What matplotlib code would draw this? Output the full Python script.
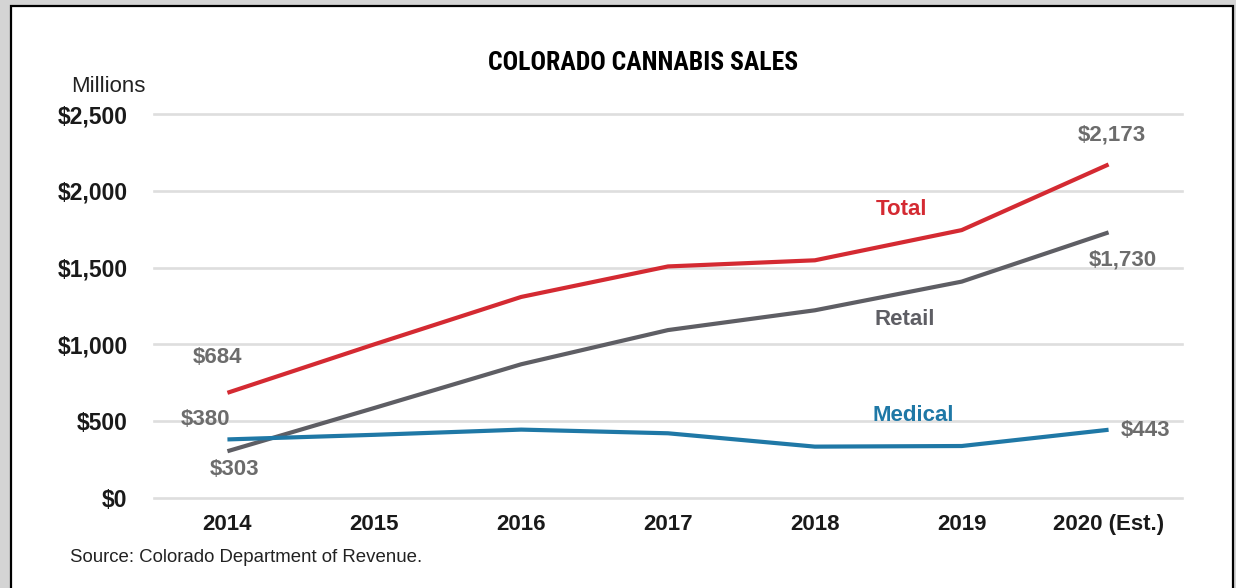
import matplotlib
matplotlib.use("Agg")
import matplotlib.pyplot as plt
from matplotlib import font_manager
from matplotlib.patches import Rectangle

years = ["2014", "2015", "2016", "2017", "2018", "2019", "2020 (Est.)"]
total = [684, 1000, 1309, 1508, 1548, 1745, 2173]
retail = [303, 585, 870, 1093, 1222, 1409, 1730]
medical = [380, 410, 444, 420, 333, 337, 443]
yticks = [0, 500, 1000, 1500, 2000, 2500]
ytick_labels = ["$0", "$500", "$1,000", "$1,500", "$2,000", "$2,500"]


def _w(f):
    w = f.weight
    if isinstance(w, str):
        return 700 if "bold" in w.lower() else 400
    return w


bold_names = {f.name for f in font_manager.fontManager.ttflist if _w(f) >= 650 and f.style == "normal"}
cands = ["Archivo Narrow", "Liberation Sans Narrow", "Roboto Condensed", "Arimo Narrow",
         "PT Sans Narrow", "Fira Sans Condensed", "IBM Plex Sans Condensed", "Asap Condensed",
         "Barlow Semi Condensed"]
NARROW = next((n for n in cands if n in bold_names), None)
BASE = ["Liberation Sans", "DejaVu Sans"]
plt.rcParams["font.family"] = BASE

W, H = 1236, 588
fig = plt.figure(figsize=(W / 100, H / 100), dpi=100)
fig.patch.set_facecolor("#d4d4d4")
fig.patches.append(Rectangle((10.5 / W, -0.05), (1232.5 - 10.5) / W, 1.05 - 5.5 / H,
                             transform=fig.transFigure, facecolor="white",
                             edgecolor="black", linewidth=1.6, zorder=-5))

ax = fig.add_axes([154 / W, (H - 497.7) / H, (1182 - 154) / W, (497.7 - 114.3) / H])
ax.set_facecolor("none")
x = list(range(len(years)))

RED = "#d42a32"
GRAY = "#5e5e64"
BLUE = "#1f78a6"
LABEL_GRAY = "#6c6c6c"

for v in yticks:
    ax.axhline(v, color="#dedede", lw=1.9, zorder=1, clip_on=False)

ax.plot(x, total, color=RED, lw=3, zorder=3, clip_on=False, solid_capstyle="butt")
ax.plot(x, retail, color=GRAY, lw=3, zorder=3, clip_on=False, solid_capstyle="butt")
ax.plot(x, medical, color=BLUE, lw=3, zorder=3, clip_on=False, solid_capstyle="butt")

ax.set_xlim(-0.5, 6.5)
ax.set_ylim(0, 2500)
ax.set_yticks(yticks)
ax.set_yticklabels(ytick_labels, fontsize=16.5, fontweight="bold", color="#1a1a1a")
ax.set_xticks(x)
ax.set_xticklabels(years, fontsize=16, fontweight="bold", color="#1a1a1a")
ax.tick_params(axis="both", length=0)
ax.tick_params(axis="y", pad=19)
ax.tick_params(axis="x", pad=12)
for s in ax.spines.values():
    s.set_visible(False)

lab = dict(fontsize=16, fontweight="bold", color=LABEL_GRAY, va="center")
ax.text(-0.07, 911, f"${total[0]:,}", ha="center", **lab)
ax.text(-0.15, 507, f"${medical[0]:,}", ha="center", **lab)
ax.text(0.05, 181, f"${retail[0]:,}", ha="center", **lab)
ax.text(6.02, 2365, f"${total[-1]:,}", ha="center", **lab)
ax.text(6.10, 1550, f"${retail[-1]:,}", ha="center", **lab)
ax.text(6.08, 435, f"${medical[-1]:,}", ha="left", **lab)

ser = dict(fontsize=16, fontweight="bold", va="center", ha="center")
ax.text(4.59, 1876, "Total", color=RED, **ser)
ax.text(4.61, 1159, "Retail", color=GRAY, **ser)
ax.text(4.67, 533, "Medical", color=BLUE, **ser)

if NARROW:
    t = fig.text(643 / W, 1 - 63 / H, "COLORADO CANNABIS SALES", ha="center", va="center",
                 fontsize=18, fontweight="bold", color="black", family=[NARROW] + BASE)
    # fit the title width to the reference (about 310 px)
    fig.canvas.draw()
    wpx = t.get_window_extent().width
    if wpx > 0:
        t.set_fontsize(18 * 310 / wpx)
else:
    fig.text(643 / W, 1 - 63 / H, "COLORADO CANNABIS SALES", ha="center", va="center",
             fontsize=15, fontweight="bold", color="black")
fig.text(108 / W, 1 - 87 / H, "Millions", ha="center", va="center",
         fontsize=16, color="#222222")
fig.text(70 / W, 1 - 558 / H, "Source: Colorado Department of Revenue.", ha="left",
         va="center", fontsize=13.4, color="#222222")

fig.savefig("out.png", dpi=100, facecolor=fig.get_facecolor())
